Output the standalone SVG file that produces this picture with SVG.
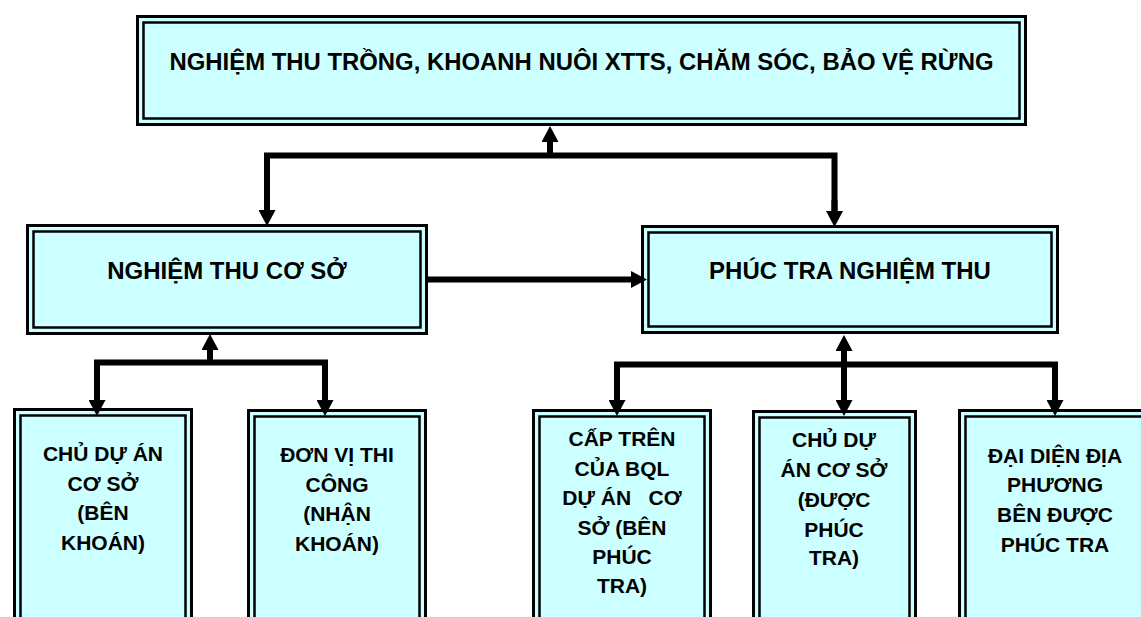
<svg xmlns="http://www.w3.org/2000/svg" width="1141" height="617" viewBox="0 0 1141 617">
<style>
  .outer{fill:#CCFFFF;stroke:#000;stroke-width:3}
  .inner{fill:none;stroke:#000;stroke-width:2.5}
  .big{font-family:"Liberation Sans",Arial,sans-serif;font-weight:bold;font-size:24px;fill:#000;text-anchor:middle}
  .sm{font-family:"Liberation Sans",Arial,sans-serif;font-weight:bold;font-size:21px;fill:#000;text-anchor:middle;white-space:pre}
  .ln{fill:none;stroke:#000;stroke-width:6;stroke-linejoin:miter;stroke-linecap:square}
  .ar{fill:none;stroke:#000;stroke-width:6;stroke-linecap:butt;marker-end:url(#ah)}
</style>
<defs>
  <marker id="ah" markerUnits="userSpaceOnUse" viewBox="0 0 16 17" markerWidth="16" markerHeight="17" refX="1" refY="8.5" orient="auto">
    <path d="M0,0 L16,8.5 L0,17 z" fill="#000"/>
  </marker>
</defs>
<rect width="1141" height="617" fill="#fff"/>

<g id="top">
  <rect class="outer" x="137.5" y="16.5" width="888" height="108"/>
  <rect class="inner" x="143.5" y="22.5" width="876" height="96"/>
  <text class="big" x="581.5" y="70" textLength="824" lengthAdjust="spacingAndGlyphs">NGHIỆM THU TRỒNG, KHOANH NUÔI XTTS, CHĂM SÓC, BẢO VỆ RỪNG</text>
</g>

<g id="co-so">
  <rect class="outer" x="27.5" y="225.5" width="399" height="108"/>
  <rect class="inner" x="33.5" y="231.5" width="387" height="96"/>
  <text class="big" x="227" y="279">NGHIỆM THU CƠ SỞ</text>
</g>

<g id="phuc-tra">
  <rect class="outer" x="642.5" y="226.5" width="415" height="106"/>
  <rect class="inner" x="648.5" y="232.5" width="403" height="94"/>
  <text class="big" x="850" y="279">PHÚC TRA NGHIỆM THU</text>
</g>

<g id="chu-du-an">
  <rect class="outer" x="14.5" y="409.5" width="177" height="220"/>
  <rect class="inner" x="20.5" y="415.5" width="165" height="220"/>
  <text class="sm" x="103" y="461">CHỦ DỰ ÁN</text>
  <text class="sm" x="103" y="491">CƠ SỞ</text>
  <text class="sm" x="103" y="520">(BÊN</text>
  <text class="sm" x="103" y="550">KHOÁN)</text>
</g>

<g id="don-vi">
  <rect class="outer" x="248.5" y="410.5" width="177" height="220"/>
  <rect class="inner" x="254.5" y="416.5" width="165" height="220"/>
  <text class="sm" x="337" y="462">ĐƠN VỊ THI</text>
  <text class="sm" x="337" y="492">CÔNG</text>
  <text class="sm" x="337" y="521">(NHẬN</text>
  <text class="sm" x="337" y="551">KHOÁN)</text>
</g>

<g id="cap-tren">
  <rect class="outer" x="533.5" y="410.5" width="177" height="220"/>
  <rect class="inner" x="539.5" y="416.5" width="165" height="220"/>
  <text class="sm" x="622" y="446">CẤP TRÊN</text>
  <text class="sm" x="622" y="476">CỦA BQL</text>
  <text class="sm" x="622" y="505">DỰ ÁN   CƠ</text>
  <text class="sm" x="622" y="535">SỞ (BÊN</text>
  <text class="sm" x="622" y="564">PHÚC</text>
  <text class="sm" x="622" y="593">TRA)</text>
</g>

<g id="chu-du-an-duoc">
  <rect class="outer" x="753.5" y="411.5" width="162" height="220"/>
  <rect class="inner" x="759.5" y="417.5" width="150" height="220"/>
  <text class="sm" x="834" y="447">CHỦ DỰ</text>
  <text class="sm" x="834" y="477">ÁN CƠ SỞ</text>
  <text class="sm" x="834" y="507">(ĐƯỢC</text>
  <text class="sm" x="834" y="537">PHÚC</text>
  <text class="sm" x="834" y="565">TRA)</text>
</g>

<g id="dai-dien">
  <rect class="outer" x="959.5" y="410.5" width="192" height="220"/>
  <rect class="inner" x="965.5" y="416.5" width="180" height="220"/>
  <text class="sm" x="1055" y="463">ĐẠI DIỆN ĐỊA</text>
  <text class="sm" x="1055" y="492">PHƯƠNG</text>
  <text class="sm" x="1055" y="522">BÊN ĐƯỢC</text>
  <text class="sm" x="1055" y="552">PHÚC TRA</text>
</g>

<g id="connectors">
  <!-- top level -->
  <path class="ar" d="M550,155.5 L550,141"/>
  <path class="ln" d="M267,211 L267,155.5 L834.5,155.5 L834.5,212"/>
  <path class="ar" d="M267,200 L267,211"/>
  <path class="ar" d="M834.5,200 L834.5,212"/>
  <!-- co so -> phuc tra -->
  <path class="ar" d="M428,279.5 L632,279.5"/>
  <!-- left bottom group -->
  <path class="ar" d="M210,362.5 L210,349"/>
  <path class="ln" d="M97,400 L97,362.5 L325,362.5 L325,400"/>
  <path class="ar" d="M97,390 L97,401"/>
  <path class="ar" d="M325,390 L325,401"/>
  <!-- right bottom group -->
  <path class="ar" d="M844,400 L844,350"/>
  <path class="ln" d="M617,400 L617,364.5 L1055,364.5 L1055,400"/>
  <path class="ar" d="M617,390 L617,401"/>
  <path class="ar" d="M844,360 L844,401"/>
  <path class="ar" d="M1055,390 L1055,401"/>
</g>
</svg>
